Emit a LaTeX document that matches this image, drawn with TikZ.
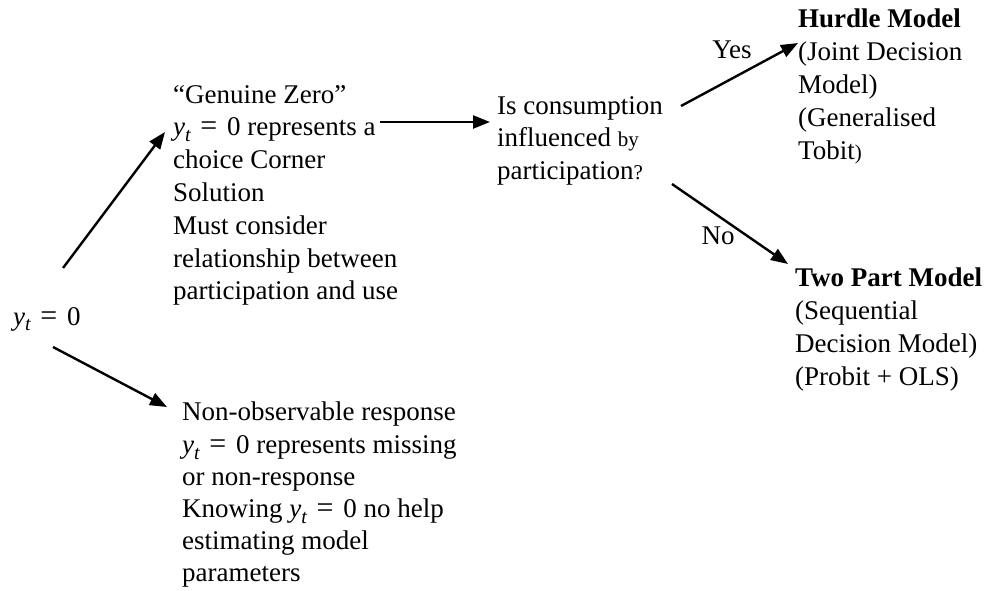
\documentclass[tikz,border=0pt]{standalone}
\usepackage{fontspec}
\setmainfont{Liberation Serif}
\usetikzlibrary{arrows.meta}
\newcommand{\yzero}{{\itshape y}\raisebox{-0.22em}{\fontsize{20}{20}\selectfont\itshape t}\hspace{0.36em}{\fontsize{30}{30}\selectfont=}\hspace{0.36em}0}
\newcommand{\smallfs}{\fontsize{21}{32.8}\selectfont}
\tikzset{
  txt/.style={font=\fontsize{27}{32.8}\selectfont, align=left, inner sep=0pt, anchor=north west},
  lbl/.style={font=\fontsize{27}{32.8}\selectfont, inner sep=0pt},
  conn/.style={line width=2.4pt, -{Triangle[length=17pt,width=13pt]}}
}
\begin{document}
\begin{tikzpicture}[x=1pt,y=-1pt]
\useasboundingbox (0,0) rectangle (984,590);
\node[lbl, anchor=base west] (y0) at (13,325) {\yzero};
\node[txt] (gz) at (173,85) {``Genuine Zero''\\\yzero{} represents a\\choice Corner\\Solution\\Must consider\\relationship between\\participation and use};
\node[txt] (q) at (497,96) {Is consumption\\influenced {\smallfs by}\\participation{\smallfs ?}};
\node[txt] (hm) at (798,9) {\textbf{Hurdle Model}\\(Joint Decision\\Model)\\(Generalised\\Tobit{\smallfs )}};
\node[txt] (tp) at (795,268) {\textbf{Two Part Model}\\(Sequential\\Decision Model)\\(Probit + OLS)};
\node[txt, font=\fontsize{27}{32.2}\selectfont] (no) at (182,402) {Non-observable response\\\yzero{} represents missing\\or non-response\\Knowing \yzero{} no help\\estimating model\\parameters};
\node[lbl] (yes) at (732,50) {Yes};
\node[lbl] (nol) at (718,236) {No};
\coordinate (a1s) at (63,268);
\coordinate (a1e) at (165,132);
\coordinate (a2s) at (53,347);
\coordinate (a2e) at (167,407);
\coordinate (a3s) at (380,122);
\coordinate (a3e) at (490,122);
\coordinate (a4s) at (681,106);
\coordinate (a4e) at (798,43);
\coordinate (a5s) at (672,184);
\coordinate (a5e) at (788,264);
\draw[conn] (a1s) -- (a1e);
\draw[conn] (a2s) -- (a2e);
\draw[conn] (a3s) -- (a3e);
\draw[conn] (a4s) -- (a4e);
\draw[conn] (a5s) -- (a5e);
\end{tikzpicture}
\end{document}
